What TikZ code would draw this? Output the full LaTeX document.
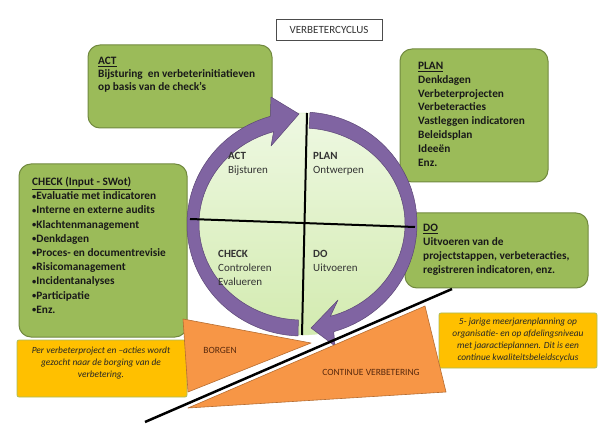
\documentclass[tikz,border=0pt]{standalone}
\usepackage{fontspec}
\setmainfont{Carlito}
\definecolor{gfill}{HTML}{9BBB59}
\definecolor{gline}{HTML}{71893F}
\definecolor{pfill}{HTML}{8064A2}
\definecolor{pline}{HTML}{5C4776}
\definecolor{ofill}{HTML}{F79646}
\definecolor{oline}{HTML}{B66D31}
\definecolor{yfill}{HTML}{FFC000}
\definecolor{yline}{HTML}{A9BD5E}
\definecolor{etop}{HTML}{EEF8E2}
\definecolor{ebot}{HTML}{D3EBB0}
\definecolor{otext}{HTML}{5A2A0E}
\newcommand{\smbul}{\raisebox{0.12ex}{\scalebox{0.75}{\textbullet}}}
\begin{document}
\begin{tikzpicture}[x=1pt,y=-1pt,
  gbox/.style={draw=gline, fill=gfill, line width=1pt, rounded corners=12pt, inner sep=0pt},
  ybox/.style={draw=yline, fill=yfill, line width=0.8pt, rounded corners=2pt, inner sep=0pt},
  titlebox/.style={draw=black!70, fill=white, line width=0.6pt, inner sep=0pt, font=\fontsize{11}{13}\selectfont, text=black!80},
  btext/.style={anchor=north west, align=left, inner sep=0pt, text=black!90, font=\bfseries\fontsize{11.3}{#1}\selectfont},
  ctext/.style={anchor=north west, align=left, inner sep=0pt, text=black!80, font=\fontsize{11}{14}\selectfont},
  ytext/.style={anchor=north, align=center, inner sep=0pt, text=black!85, font=\itshape\fontsize{9.4}{12}\selectfont},
  otextstyle/.style={inner sep=0pt, text=otext, font=\fontsize{9.5}{11}\selectfont},
  parrow/.style={fill=pfill, draw=pline, line width=0.5pt, line join=round},
  otri/.style={fill=ofill, draw=oline, line width=0.6pt, line join=round},
  qline/.style={draw=black, line width=2pt}]
\useasboundingbox (0,0) rectangle (605,438);
\fill[white] (0,0) rectangle (605,438);

% green boxes
\node[gbox, minimum width=184pt, minimum height=83pt] (actbox) at (180,86.5) {};
\node[gbox, minimum width=148pt, minimum height=133pt] (planbox) at (474,115.5) {};
\node[gbox, minimum width=168pt, minimum height=173pt] (checkbox) at (103,250.5) {};
\node[gbox, minimum width=183pt, minimum height=75pt] (dobox) at (496.5,250.5) {};

% cycle ellipse
\coordinate (c) at (302,224);
\shade[top color=etop, bottom color=ebot, draw=ebot] (c) ellipse [x radius=114, y radius=111];

% purple arrows
\path[parrow] ([shift={(92:115 and 112)}]c) arc[start angle=92, end angle=254, x radius=115, y radius=112]
  -- (271,97) -- (299,114) -- (271,146)
  -- ([shift={(254:103 and 96)}]c) arc[start angle=254, end angle=92, x radius=103, y radius=96] -- cycle;
\path[parrow] ([shift={(274:115 and 112)}]c) arc[start angle=274, end angle=434, x radius=115, y radius=112]
  -- (335,346) -- (311,328) -- (338,300)
  -- ([shift={(434:103 and 96)}]c) arc[start angle=434, end angle=274, x radius=103, y radius=96] -- cycle;

% quadrant lines
\coordinate (vt) at (307,113);
\coordinate (vb) at (302,335);
\coordinate (hl) at (190,219);
\coordinate (hr) at (415,227);
\draw[qline] (vt) -- (vb);
\draw[qline] (hl) -- (hr);

% quadrant labels
\node[ctext] (qact) at (228,152) {\textbf{ACT}\\Bijsturen};
\node[ctext] (qplan) at (313,152) {\textbf{PLAN}\\Ontwerpen};
\node[ctext] (qcheck) at (218,250) {\textbf{CHECK}\\Controleren\\Evalueren};
\node[ctext] (qdo) at (313,250) {\textbf{DO}\\Uitvoeren};

% box texts
\node[btext=13] (acttxt) at (98,57) {\underline{ACT}\\Bijsturing~ en verbeterinitiatieven\\op basis van de check’s};
\node[btext=13.8] (plantxt) at (418,62) {\underline{PLAN}\\Denkdagen\\Verbeterprojecten\\Verbeteracties\\Vastleggen indicatoren\\Beleidsplan\\Ideeën\\Enz.};
\node[btext=14.2] (checktxt) at (32,177) {\underline{CHECK (Input - SWot)}\\\smbul Evaluatie met indicatoren\\\smbul Interne en externe audits\\\smbul Klachtenmanagement\\\smbul Denkdagen\\\smbul Proces- en documentrevisie\\\smbul Risicomanagement\\\smbul Incidentanalyses\\\smbul Participatie\\\smbul Enz.};
\node[btext=14] (dotxt) at (423,224) {\underline{DO}\\Uitvoeren van de\\projectstappen, verbeteracties,\\registreren indicatoren, enz.};

% title
\node[titlebox, minimum width=106pt, minimum height=21pt] (title) at (329,29.5) {VERBETERCYCLUS};

% yellow boxes
\node[ybox, minimum width=170pt, minimum height=57pt] (yleft) at (102,368.5) {};
\node[ybox, minimum width=158pt, minimum height=55pt] (yright) at (518,340.5) {};
\node[ytext] (ylefttxt) at (101,347) {Per verbeterproject en --acties wordt\\gezocht naar de borging van de\\verbetering.};
\node[ytext] (yrighttxt) at (518,318) {5- jarige meerjarenplanning op\\organisatie- en op afdelingsniveau\\met jaaractieplannen. Dit is een\\continue kwaliteitsbeleidscyclus};

% orange triangles
\coordinate (b1) at (183,319);
\coordinate (b2) at (188,392);
\coordinate (b3) at (311,343);
\coordinate (t1) at (188,408);
\coordinate (t2) at (425,306);
\coordinate (t3) at (446,392);
\path[otri] (b1) -- (b3) -- (b2) -- cycle;
\path[otri] (t1) -- (t2) -- (t3) -- cycle;
\node[otextstyle] (borgen) at (220,350) {BORGEN};
\node[otextstyle] (cv) at (371,372) {CONTINUE VERBETERING};

% diagonal line
\coordinate (d1) at (145,422);
\coordinate (d2) at (452,289);
\draw[draw=black, line width=2.5pt] (d1) -- (d2);
\end{tikzpicture}
\end{document}
